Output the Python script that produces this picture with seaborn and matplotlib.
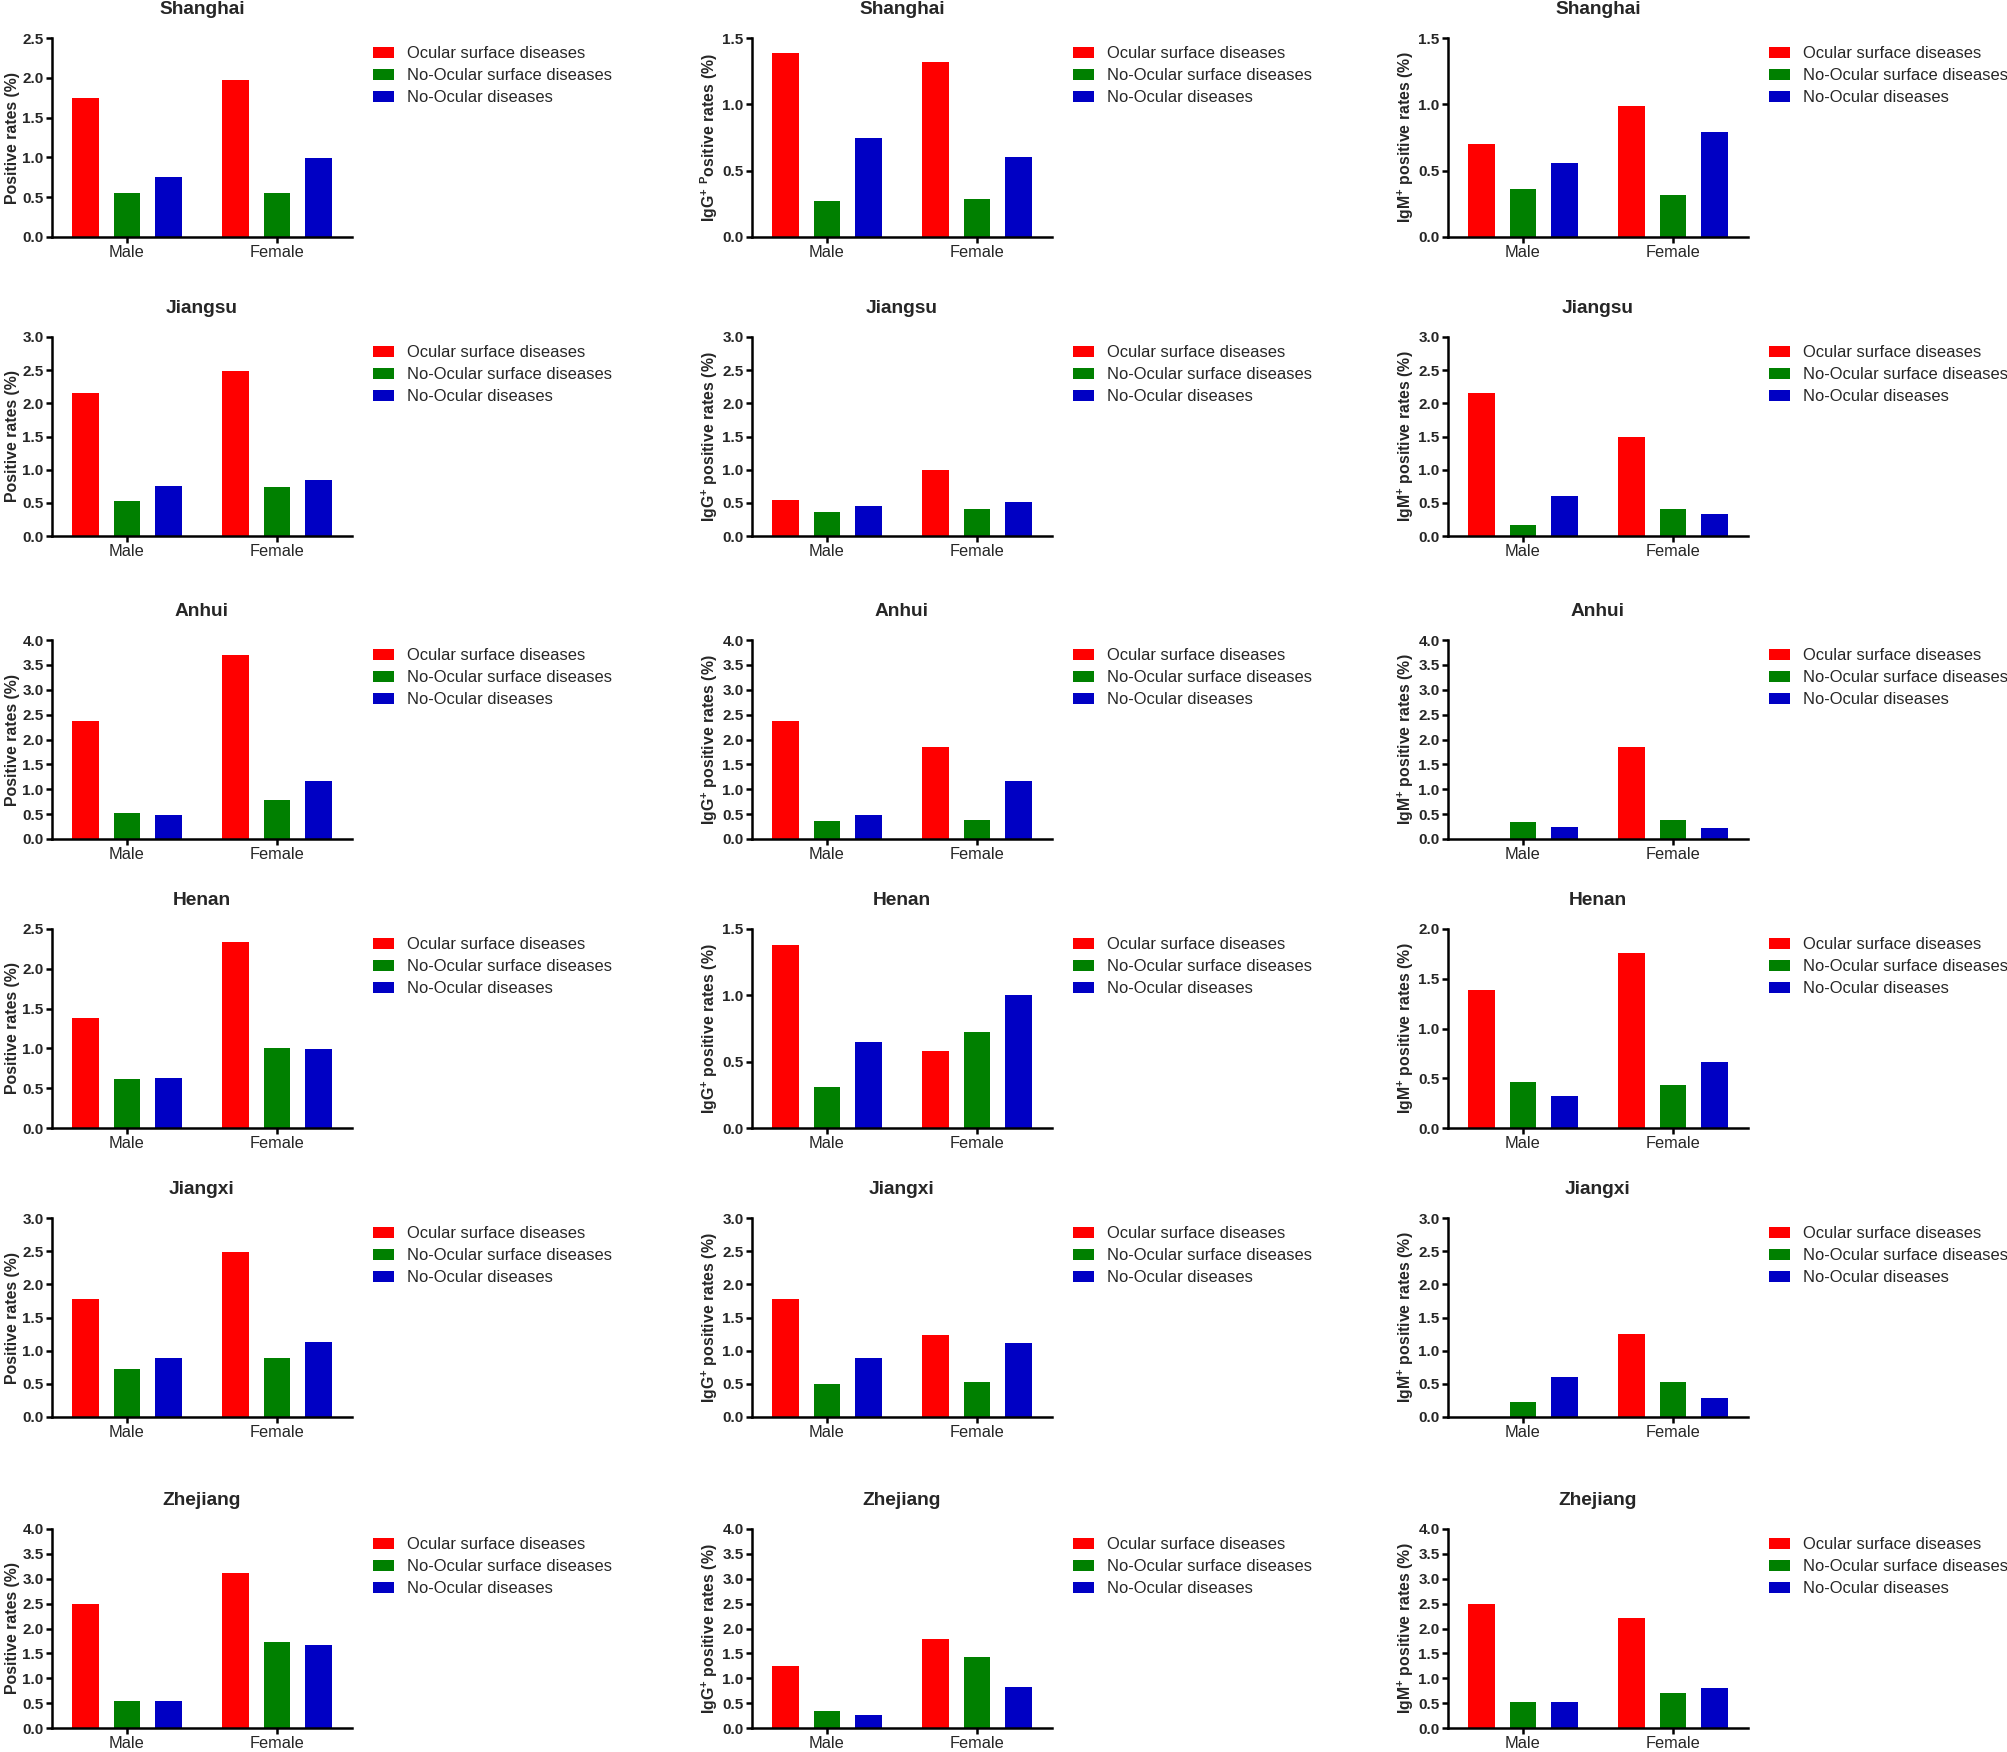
import matplotlib
matplotlib.use("Agg")
import matplotlib.pyplot as plt
import seaborn as sns
import pandas as pd
import numpy as np

sns.set_theme(style="white")
plt.rcParams['font.family'] = ['Liberation Sans', 'DejaVu Sans']
plt.rcParams['mathtext.default'] = 'regular'

# ---------------- data ----------------
provinces = ['Shanghai', 'Jiangsu', 'Anhui', 'Henan', 'Jiangxi', 'Zhejiang']
sexes = ['Male', 'Female']
groups = ['Ocular surface diseases', 'No-Ocular surface diseases', 'No-Ocular diseases']
colors = ['#FF0000', '#008000', '#0000C4']

# Positive rates (%)  [Ocular surface, No-Ocular surface, No-Ocular]
positive_male = [[1.74, 0.55, 0.75], [2.15, 0.53, 0.76], [2.38, 0.53, 0.49],
                 [1.38, 0.62, 0.63], [1.78, 0.72, 0.89], [2.50, 0.54, 0.54]]
positive_female = [[1.97, 0.55, 0.99], [2.49, 0.74, 0.85], [3.70, 0.79, 1.17],
                   [2.34, 1.00, 0.99], [2.49, 0.89, 1.13], [3.12, 1.73, 1.66]]

# IgG+ positive rates (%)
igg_male = [[1.39, 0.27, 0.75], [0.54, 0.36, 0.45], [2.37, 0.36, 0.49],
            [1.38, 0.31, 0.65], [1.78, 0.49, 0.89], [1.25, 0.34, 0.26]]
igg_female = [[1.32, 0.29, 0.60], [1.00, 0.41, 0.51], [1.85, 0.39, 1.17],
              [0.58, 0.72, 1.00], [1.24, 0.53, 1.12], [1.78, 1.43, 0.82]]

# IgM+ positive rates (%)
igm_male = [[0.70, 0.36, 0.56], [2.15, 0.17, 0.60], [0.00, 0.35, 0.25],
            [1.39, 0.46, 0.32], [0.00, 0.23, 0.60], [2.50, 0.53, 0.53]]
igm_female = [[0.99, 0.32, 0.79], [1.50, 0.41, 0.33], [1.85, 0.39, 0.23],
              [1.76, 0.43, 0.66], [1.25, 0.53, 0.28], [2.22, 0.70, 0.81]]

# y-axis maxima per column
ymax_positive = [2.5, 3.0, 4.0, 2.5, 3.0, 4.0]
ymax_igg = [1.5, 3.0, 4.0, 1.5, 3.0, 4.0]
ymax_igm = [1.5, 3.0, 4.0, 2.0, 3.0, 4.0]

ylabels_positive = ['Positive rates (%)'] * 6
ylabels_igg = ['IgG$^{+}$ $^{P}$ositive rates (%)'] + ['IgG$^{+}$ positive rates (%)'] * 5
ylabels_igm = ['IgM$^{+}$ positive rates (%)'] * 6

columns = [
    (positive_male, positive_female, ymax_positive, ylabels_positive),
    (igg_male, igg_female, ymax_igg, ylabels_igg),
    (igm_male, igm_female, ymax_igm, ylabels_igm),
]

# ---------------- layout ----------------
W, H = 2008, 1752
fig = plt.figure(figsize=(W / 100, H / 100), dpi=100)
col_left = [52, 752, 1448]
row_top = [38, 337, 640, 929, 1218, 1529]
ax_w, ax_h = 300, 199

for c, (mvals, fvals, ymaxs, ylabs) in enumerate(columns):
    for r, prov in enumerate(provinces):
        left = col_left[c] / W
        bottom = 1 - (row_top[r] + ax_h) / H
        ax = fig.add_axes([left, bottom, ax_w / W, ax_h / H])
        rows = []
        for sex, vals in zip(sexes, [mvals[r], fvals[r]]):
            for g, v in zip(groups, vals):
                rows.append({'Sex': sex, 'Group': g, 'Value': v})
        df = pd.DataFrame(rows)
        sns.barplot(data=df, x='Sex', y='Value', hue='Group', order=sexes,
                    hue_order=groups, palette=colors, width=0.825, gap=0.35,
                    saturation=1, errorbar=None, ax=ax, linewidth=0)
        ax.set_xlim(-0.5, 1.5)
        ax.set_ylim(0, ymaxs[r])
        ticks = np.arange(0, ymaxs[r] + 0.01, 0.5)
        ax.set_yticks(ticks)
        ax.set_yticklabels([f'{t:.1f}' for t in ticks], fontsize=11, fontweight='bold')
        ax.set_xticks([0, 1])
        ax.set_xticklabels(sexes, fontsize=11.8)
        ax.set_xlabel('')
        ax.set_ylabel(ylabs[r], fontsize=11.4, fontweight='bold', labelpad=2)
        ax.set_title(prov, fontsize=13.8, fontweight='bold', pad=17)
        for s in ['top', 'right']:
            ax.spines[s].set_visible(False)
        for s in ['left', 'bottom']:
            ax.spines[s].set_color('black')
            ax.spines[s].set_linewidth(1.8)
        ax.tick_params(axis='both', which='major', direction='out', length=4,
                       width=1.8, color='black', pad=2, left=True, bottom=True)
        ax.set_facecolor('white')
        handles, labels = ax.get_legend_handles_labels()
        if ax.get_legend() is not None:
            ax.get_legend().remove()
        ax.legend(handles, labels, loc='upper left', bbox_to_anchor=(1.07, 0.96),
                  frameon=False, fontsize=11.9, borderaxespad=0, borderpad=0,
                  handlelength=1.3, handleheight=0.65, handletextpad=0.75,
                  labelspacing=0.42)

fig.savefig('out.png', dpi=100, facecolor='white')
